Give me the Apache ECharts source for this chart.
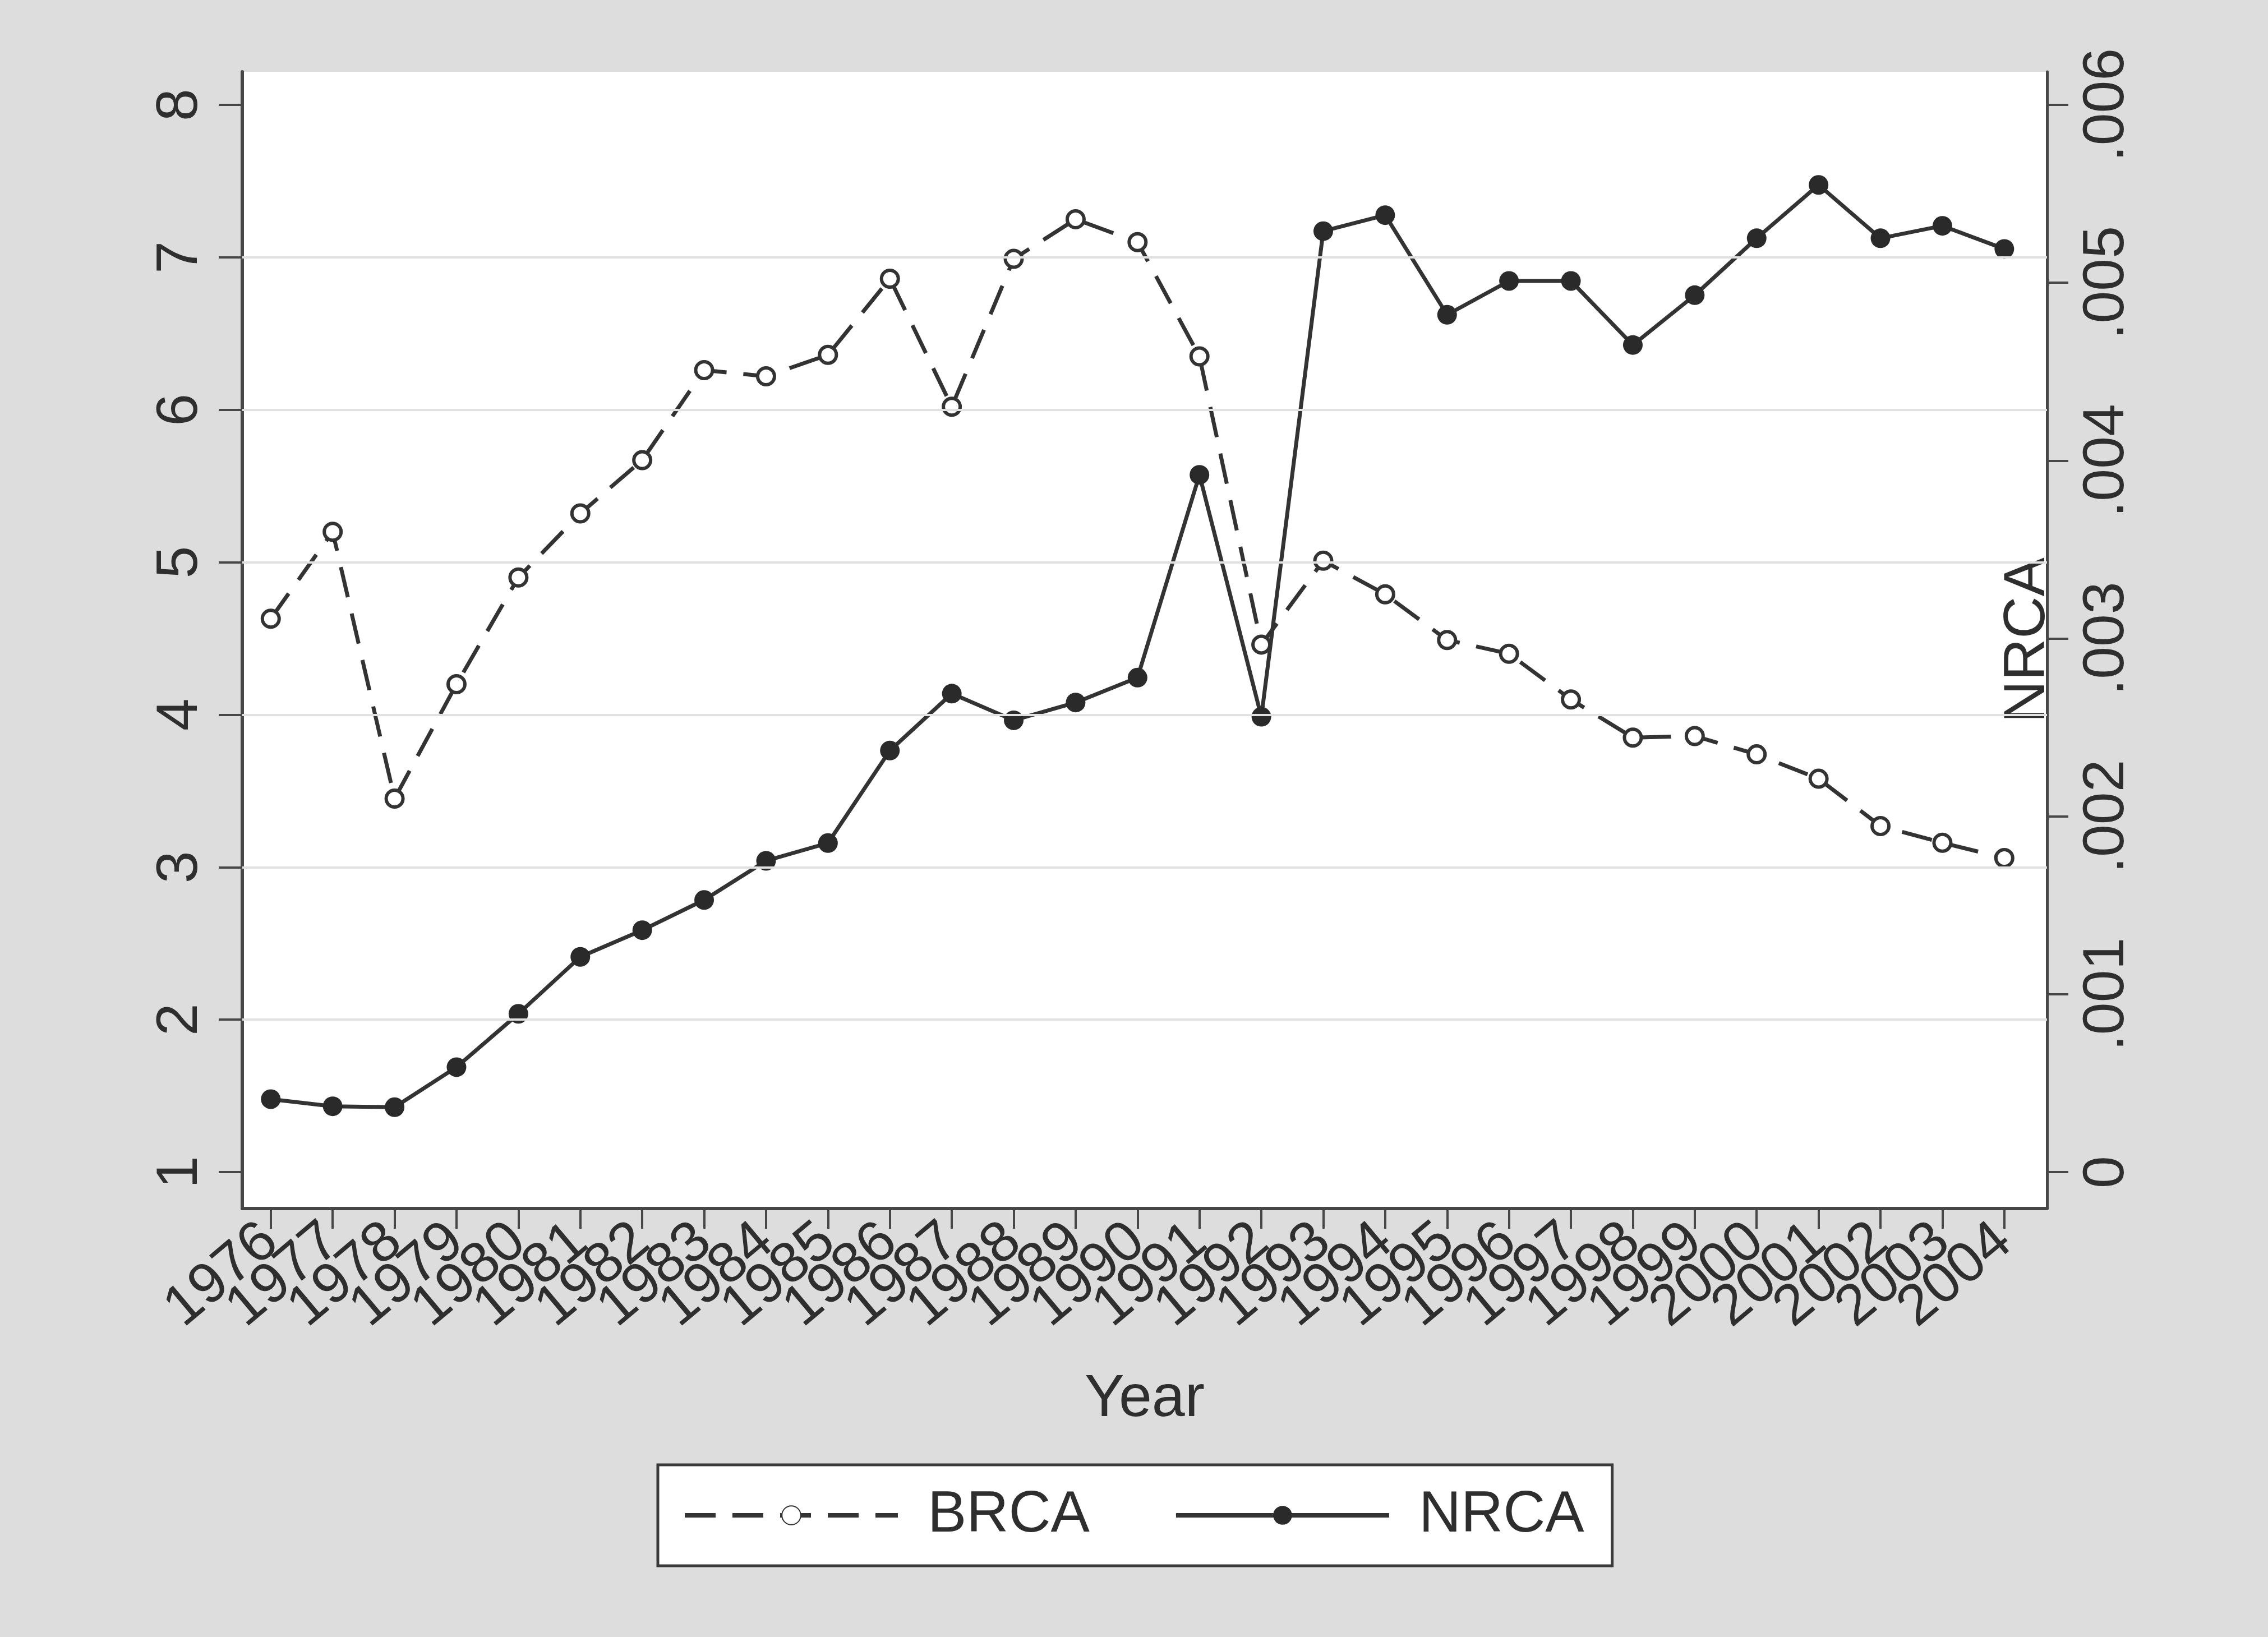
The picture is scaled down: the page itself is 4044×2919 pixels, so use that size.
<!DOCTYPE html>
<html>
<head>
<meta charset="utf-8">
<script src="https://cdn.jsdelivr.net/npm/echarts@6/dist/echarts.min.js"></script>
<style>
  html, body { margin: 0; padding: 0; background: #dddddd; }
  #chart { width: 4044px; height: 2919px; }
</style>
</head>
<body>
<div id="chart"></div>
<script>
// Years on the horizontal axis
const years = [1976, 1977, 1978, 1979, 1980, 1981, 1982, 1983, 1984, 1985,
               1986, 1987, 1988, 1989, 1990, 1991, 1992, 1993, 1994, 1995,
               1996, 1997, 1998, 1999, 2000, 2001, 2002, 2003, 2004];

// BRCA (left axis)
const brca = [4.63, 5.20, 3.45, 4.20, 4.90, 5.32, 5.67, 6.26, 6.22, 6.36,
              6.86, 6.02, 6.99, 7.25, 7.10, 6.35, 4.46, 5.01, 4.79, 4.49,
              4.40, 4.10, 3.85, 3.86, 3.74, 3.58, 3.27, 3.16, 3.06];

// NRCA (right axis)
const nrca = [0.00041, 0.00037, 0.000365, 0.00059, 0.00089, 0.00121, 0.00136, 0.00153, 0.00175, 0.00185,
              0.00237, 0.00269, 0.00254, 0.00264, 0.00278, 0.00392, 0.00256, 0.00529, 0.00538, 0.00482,
              0.00501, 0.00501, 0.00465, 0.00493, 0.00525, 0.00555, 0.00525, 0.00532, 0.00519];

// Tick labels
const leftTicks = [1, 2, 3, 4, 5, 6, 7, 8];
const rightTicks = [0, 0.001, 0.002, 0.003, 0.004, 0.005, 0.006];
const gridValues = [2, 3, 4, 5, 6, 7];

const FONT = '"Liberation Sans", Arial, Helvetica, sans-serif';
const INK = '#2e2e2e';
const AXIS = '#474747';

// Plot frame (px) and the horizontal span of the first/last year inside it
const frame = { left: 432, right: 3650, top: 128, bottom: 2155 };
const xMin = 1975.54, xMax = 2004.69;
const W = 4044, H = 2919;
const pxPerYear = (frame.right - frame.left) / (xMax - xMin);
const firstX = frame.left + (years[0] - xMin) * pxPerYear;
const lastX = frame.left + (years[years.length - 1] - xMin) * pxPerYear;

// Left scale runs a little past 1 and 8; the right scale is aligned so 0 sits on 1 and .006 on 8
const leftMin = 0.761, leftMax = 8.217;
const toRight = v => (v - 1) * 0.006 / 7;

const chart = echarts.init(document.getElementById('chart'), null, { renderer: 'canvas' });

chart.setOption({
  backgroundColor: '#dddddd',
  animation: false,
  grid: [
    {
      // plot region
      left: frame.left, right: W - frame.right, top: frame.top, bottom: H - frame.bottom,
      show: true, backgroundColor: '#ffffff', borderWidth: 0,
      outerBoundsMode: 'none'
    },
    {
      // year ticks and labels, spanning first to last year
      left: firstX, right: W - lastX, top: frame.top, bottom: H - frame.bottom,
      show: false, outerBoundsMode: 'none'
    }
  ],
  legend: {
    data: ['BRCA', 'NRCA'],
    left: 1173, top: 2612,
    orient: 'horizontal',
    itemWidth: 380, itemHeight: 42, itemGap: 150,
    padding: [38, 50, 38, 44],
    backgroundColor: '#ffffff',
    borderColor: '#3a3a3a', borderWidth: 5, borderRadius: 0,
    lineStyle: { width: 8 },
    textStyle: { fontFamily: FONT, fontSize: 104, color: INK, padding: [0, 0, 0, 48] }
  },
  xAxis: [
    {
      type: 'value', gridIndex: 0,
      min: xMin, max: xMax,
      name: 'Year', nameLocation: 'middle', nameGap: 288, nameMoveOverlap: false,
      nameTextStyle: { fontFamily: FONT, fontSize: 106, color: INK },
      axisLine: { show: true, onZero: false, lineStyle: { color: AXIS, width: 6 } },
      axisTick: { show: false },
      axisLabel: { show: false },
      splitLine: { show: false }
    },
    {
      type: 'category', gridIndex: 1, data: years, boundaryGap: false,
      axisLine: { show: false },
      axisTick: { show: true, interval: 0, length: 36, lineStyle: { color: AXIS, width: 4 } },
      axisLabel: {
        interval: 0, rotate: 40, margin: 46,
        fontFamily: FONT, fontSize: 102, color: INK
      },
      splitLine: { show: false }
    }
  ],
  yAxis: [
    {
      type: 'value', position: 'left', gridIndex: 0,
      min: leftMin, max: leftMax,
      axisLine: { show: true, onZero: false, lineStyle: { color: AXIS, width: 6 } },
      axisTick: { show: true, length: 42, lineStyle: { color: AXIS, width: 4 }, customValues: leftTicks },
      axisLabel: {
        customValues: leftTicks, rotate: 90, margin: 58,
        showMinLabel: true, showMaxLabel: true, hideOverlap: false,
        fontFamily: FONT, fontSize: 104, color: INK,
        formatter: v => String(v)
      },
      splitLine: { show: false }
    },
    {
      type: 'value', position: 'right', gridIndex: 0,
      min: toRight(leftMin), max: toRight(leftMax),
      name: 'NRCA', nameLocation: 'middle', nameRotate: 90, nameGap: -86, nameMoveOverlap: false,
      nameTextStyle: { fontFamily: FONT, fontSize: 104, color: INK },
      axisLine: { show: true, onZero: false, lineStyle: { color: AXIS, width: 5 } },
      axisTick: { show: true, length: 38, lineStyle: { color: AXIS, width: 4 }, customValues: rightTicks },
      axisLabel: {
        customValues: rightTicks, rotate: 90, margin: 55,
        showMinLabel: true, showMaxLabel: true, hideOverlap: false,
        fontFamily: FONT, fontSize: 104, color: INK,
        formatter: v => (v === 0 ? '0' : String(+v.toFixed(3)).replace(/^0/, ''))
      },
      splitLine: { show: false }
    },
    { type: 'value', gridIndex: 1, show: false }
  ],
  series: [
    {
      // horizontal grid lines at the inner left-axis ticks
      name: 'grid', type: 'line', xAxisIndex: 0, yAxisIndex: 0, data: [], z: 1,
      silent: true, legendHoverLink: false,
      markLine: {
        silent: true, symbol: 'none', label: { show: false },
        lineStyle: { color: '#e1e1e1', width: 4, type: 'solid' },
        data: gridValues.map(v => ({ yAxis: v }))
      }
    },
    {
      name: 'BRCA', type: 'line', xAxisIndex: 0, yAxisIndex: 0, z: 3,
      data: years.map((y, i) => [y, brca[i]]),
      symbol: 'circle', symbolSize: 30,
      itemStyle: { color: '#ffffff', borderColor: '#333333', borderWidth: 6 },
      lineStyle: { color: '#333333', width: 7, type: [55, 30] }
    },
    {
      name: 'NRCA', type: 'line', xAxisIndex: 0, yAxisIndex: 1, z: 4,
      data: years.map((y, i) => [y, nrca[i]]),
      symbol: 'circle', symbolSize: 35,
      itemStyle: { color: '#2a2a2a', borderWidth: 0 },
      lineStyle: { color: '#333333', width: 7, type: 'solid' }
    }
  ]
});
</script>
</body>
</html>
